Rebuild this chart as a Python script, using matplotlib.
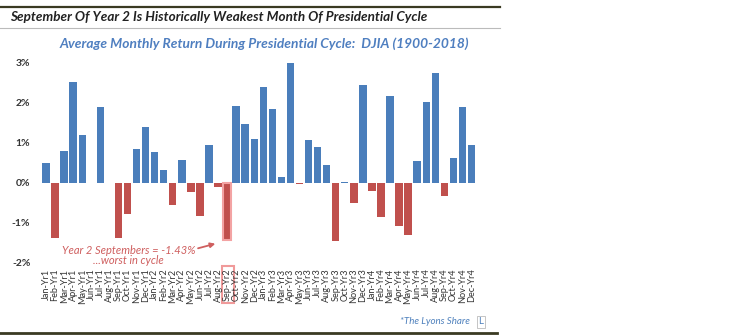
import matplotlib
matplotlib.use("Agg")
import matplotlib.pyplot as plt
from matplotlib.lines import Line2D
from matplotlib.patches import Rectangle
import matplotlib.transforms as mtransforms

months = ["Jan", "Feb", "Mar", "Apr", "May", "Jun", "Jul", "Aug", "Sep", "Oct", "Nov", "Dec"]
labels = [m + "-Yr" + str(y) for y in range(1, 5) for m in months]

yr1 = [0.50, -1.37, 0.79, 2.52, 1.21, 0.01, 1.90, 0.01, -1.37, -0.78, 0.85, 1.40]
yr2 = [0.77, 0.32, -0.54, 0.58, -0.23, -0.83, 0.96, -0.10, -1.43, 1.92, 1.48, 1.10]
yr3 = [2.40, 1.85, 0.15, 3.08, -0.03, 1.08, 0.90, 0.46, -1.44, 0.03, -0.50, 2.46]
yr4 = [-0.19, -0.86, 2.18, -1.08, -1.30, 0.56, 2.02, 2.75, -0.32, 0.63, 1.90, 0.96]
values = yr1 + yr2 + yr3 + yr4

blue = "#4a7ebb"
red = "#c0504d"
colors = [blue if v >= 0 else red for v in values]

plt.rcParams['font.family'] = ['Lato', 'DejaVu Sans']

W, H = 733, 336
fig = plt.figure(figsize=(W / 100, H / 100), dpi=100)
fig.patch.set_facecolor("white")

# axes placed in pixel terms
left, right, top, bottom = 41.5, 476, 63, 263
ax = fig.add_axes([left / W, 1 - bottom / H, (right - left) / W, (bottom - top) / H])

x = list(range(len(values)))
bars = ax.bar(x, values, width=0.82, color=colors, edgecolor="none", zorder=2)
# Sep-Yr2 highlighted
bars[20].set_edgecolor("#f3a3a3")
bars[20].set_linewidth(1.5)

ax.set_xlim(-0.5, len(values) - 0.5)
ax.set_ylim(-2, 3)
ax.set_yticks([-2, -1, 0, 1, 2, 3])
ax.set_yticklabels(["-2%", "-1%", "0%", "1%", "2%", "3%"], fontsize=7.5,
                   color="#333333", fontweight="bold")
ax.set_xticks(x)
ax.set_xticklabels(labels, rotation=90, fontsize=6.6, color="#333333")
ax.tick_params(axis="both", length=0)
ax.tick_params(axis="y", pad=8)
ax.tick_params(axis="x", pad=4)
for s in ax.spines.values():
    s.set_visible(False)

# box around Sep-Yr2 label
trans = mtransforms.blended_transform_factory(ax.transData, ax.transAxes)
ax.add_patch(Rectangle((19.4, -0.2), 1.35, 0.185, transform=trans, fill=False,
                       edgecolor="#f09a9a", linewidth=1.5, clip_on=False))

# annotation
ax.text(9.1, -1.68, "Year 2 Septembers = -1.43%", color="#cf5f5f", fontsize=8,
        ha="center", va="center", style="italic")
ax.text(9.1, -1.93, "...worst in cycle", color="#cf5f5f", fontsize=8,
        ha="center", va="center", style="italic")
ax.annotate("", xy=(19.0, -1.5), xytext=(16.5, -1.65),
            arrowprops=dict(arrowstyle="-|>", color="#cf5f5f", lw=1.3,
                            mutation_scale=7))

# header / footer
fig.add_artist(Line2D([0, 500 / W], [1 - 7 / H, 1 - 7 / H], color="#3a3a22", lw=1.6))
fig.add_artist(Line2D([0, 500 / W], [1 - 28 / H, 1 - 28 / H], color="#bbbbbb", lw=0.8))
fig.add_artist(Line2D([0, 497 / W], [1 - 333 / H, 1 - 333 / H], color="#3a3a22", lw=2))
fig.text(10 / W, 1 - 17 / H, "September Of Year 2 Is Historically Weakest Month Of Presidential Cycle",
         fontsize=9.7, fontweight="bold", style="italic", color="#222222", va="center")
fig.text(264 / W, 1 - 44 / H, "Average Monthly Return During Presidential Cycle:  DJIA (1900-2018)",
         fontsize=9.9, fontweight="bold", style="italic", color="#4f7fc0",
         va="center", ha="center")
fig.text(470 / W, 1 - 322 / H, "*The Lyons Share", fontsize=7, style="italic",
         color="#4f81bd", ha="right", va="center")
fig.text(481 / W, 1 - 322 / H, "L", fontsize=7, color="#4f81bd", ha="center", va="center",
         bbox=dict(boxstyle="square,pad=0.2", fc="white", ec="#bbbbbb", lw=0.6))

plt.savefig("out.png", dpi=100)
